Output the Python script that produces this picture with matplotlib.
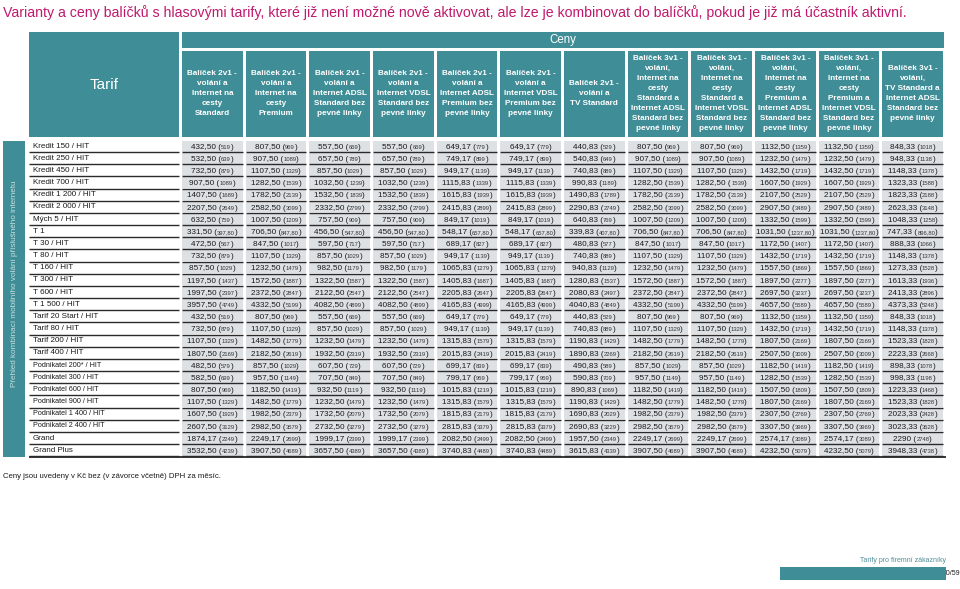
import matplotlib.pyplot as plt
from matplotlib.patches import Rectangle
from matplotlib.font_manager import FontProperties

plt.rcParams['font.family'] = ['Liberation Sans', 'DejaVu Sans']

# data

nadpis = ("Varianty a ceny balíčků s hlasovými tarify, které již není možné nově aktivovat, "
          "ale lze je kombinovat do balíčků, pokud je již má účastník aktivní.")

sloupce = [
    "Balíček 2v1 -\nvolání a\nInternet na\ncesty\nStandard",
    "Balíček 2v1 -\nvolání a\nInternet na\ncesty\nPremium",
    "Balíček 2v1 -\nvolání a\nInternet ADSL\nStandard bez\npevné linky",
    "Balíček 2v1 -\nvolání a\nInternet VDSL\nStandard bez\npevné linky",
    "Balíček 2v1 -\nvolání a\nInternet ADSL\nPremium bez\npevné linky",
    "Balíček 2v1 -\nvolání a\nInternet VDSL\nPremium bez\npevné linky",
    "Balíček 2v1 -\nvolání a\nTV Standard",
    "Balíček 3v1 -\nvolání,\nInternet na\ncesty\nStandard a\nInternet ADSL\nStandard bez\npevné linky",
    "Balíček 3v1 -\nvolání,\nInternet na\ncesty\nStandard a\nInternet VDSL\nStandard bez\npevné linky",
    "Balíček 3v1 -\nvolání,\nInternet na\ncesty\nPremium a\nInternet ADSL\nStandard bez\npevné linky",
    "Balíček 3v1 -\nvolání,\nInternet na\ncesty\nPremium a\nInternet VDSL\nStandard bez\npevné linky",
    "Balíček 3v1 -\nvolání,\nTV Standard a\nInternet ADSL\nStandard bez\npevné linky",
]

tarify = [
    "Kredit 150 / HIT", "Kredit 250 / HIT", "Kredit 450 / HIT", "Kredit 700 / HIT",
    "Kredit 1 200 / HIT", "Kredit 2 000 / HIT", "Mých 5 / HIT", "T 1",
    "T 30 / HIT", "T 80 / HIT", "T 160 / HIT", "T 300 / HIT", "T 600 / HIT",
    "T 1 500 / HIT", "Tarif 20 Start / HIT", "Tarif 80 / HIT", "Tarif 200 / HIT",
    "Tarif 400 / HIT", "Podnikatel 200* / HIT", "Podnikatel 300 / HIT",
    "Podnikatel 600 / HIT", "Podnikatel 900 / HIT", "Podnikatel 1 400 / HIT",
    "Podnikatel 2 400 / HIT", "Grand", "Grand Plus",
]

# ceny bez DPH
bez_dph = [
    ["432,50", "807,50", "557,50", "557,50", "649,17", "649,17", "440,83", "807,50", "807,50", "1132,50", "1132,50", "848,33"],
    ["532,50", "907,50", "657,50", "657,50", "749,17", "749,17", "540,83", "907,50", "907,50", "1232,50", "1232,50", "948,33"],
    ["732,50", "1107,50", "857,50", "857,50", "949,17", "949,17", "740,83", "1107,50", "1107,50", "1432,50", "1432,50", "1148,33"],
    ["907,50", "1282,50", "1032,50", "1032,50", "1115,83", "1115,83", "990,83", "1282,50", "1282,50", "1607,50", "1607,50", "1323,33"],
    ["1407,50", "1782,50", "1532,50", "1532,50", "1615,83", "1615,83", "1490,83", "1782,50", "1782,50", "2107,50", "2107,50", "1823,33"],
    ["2207,50", "2582,50", "2332,50", "2332,50", "2415,83", "2415,83", "2290,83", "2582,50", "2582,50", "2907,50", "2907,50", "2623,33"],
    ["632,50", "1007,50", "757,50", "757,50", "849,17", "849,17", "640,83", "1007,50", "1007,50", "1332,50", "1332,50", "1048,33"],
    ["331,50", "706,50", "456,50", "456,50", "548,17", "548,17", "339,83", "706,50", "706,50", "1031,50", "1031,50", "747,33"],
    ["472,50", "847,50", "597,50", "597,50", "689,17", "689,17", "480,83", "847,50", "847,50", "1172,50", "1172,50", "888,33"],
    ["732,50", "1107,50", "857,50", "857,50", "949,17", "949,17", "740,83", "1107,50", "1107,50", "1432,50", "1432,50", "1148,33"],
    ["857,50", "1232,50", "982,50", "982,50", "1065,83", "1065,83", "940,83", "1232,50", "1232,50", "1557,50", "1557,50", "1273,33"],
    ["1197,50", "1572,50", "1322,50", "1322,50", "1405,83", "1405,83", "1280,83", "1572,50", "1572,50", "1897,50", "1897,50", "1613,33"],
    ["1997,50", "2372,50", "2122,50", "2122,50", "2205,83", "2205,83", "2080,83", "2372,50", "2372,50", "2697,50", "2697,50", "2413,33"],
    ["3957,50", "4332,50", "4082,50", "4082,50", "4165,83", "4165,83", "4040,83", "4332,50", "4332,50", "4657,50", "4657,50", "4373,33"],
    ["432,50", "807,50", "557,50", "557,50", "649,17", "649,17", "440,83", "807,50", "807,50", "1132,50", "1132,50", "848,33"],
    ["732,50", "1107,50", "857,50", "857,50", "949,17", "949,17", "740,83", "1107,50", "1107,50", "1432,50", "1432,50", "1148,33"],
    ["1107,50", "1482,50", "1232,50", "1232,50", "1315,83", "1315,83", "1190,83", "1482,50", "1482,50", "1807,50", "1807,50", "1523,33"],
    ["1807,50", "2182,50", "1932,50", "1932,50", "2015,83", "2015,83", "1890,83", "2182,50", "2182,50", "2507,50", "2507,50", "2223,33"],
    ["482,50", "857,50", "607,50", "607,50", "699,17", "699,17", "490,83", "857,50", "857,50", "1182,50", "1182,50", "898,33"],
    ["582,50", "957,50", "707,50", "707,50", "799,17", "799,17", "590,83", "957,50", "957,50", "1282,50", "1282,50", "998,33"],
    ["807,50", "1182,50", "932,50", "932,50", "1015,83", "1015,83", "890,83", "1182,50", "1182,50", "1507,50", "1507,50", "1223,33"],
    ["1107,50", "1482,50", "1232,50", "1232,50", "1315,83", "1315,83", "1190,83", "1482,50", "1482,50", "1807,50", "1807,50", "1523,33"],
    ["1607,50", "1982,50", "1732,50", "1732,50", "1815,83", "1815,83", "1690,83", "1982,50", "1982,50", "2307,50", "2307,50", "2023,33"],
    ["2607,50", "2982,50", "2732,50", "2732,50", "2815,83", "2815,83", "2690,83", "2982,50", "2982,50", "3307,50", "3307,50", "3023,33"],
    ["1874,17", "2249,17", "1999,17", "1999,17", "2082,50", "2082,50", "1957,50", "2249,17", "2249,17", "2574,17", "2574,17", "2290"],
    ["3532,50", "3907,50", "3657,50", "3657,50", "3740,83", "3740,83", "3615,83", "3907,50", "3907,50", "4232,50", "4232,50", "3948,33"],
]

# ceny vcetne DPH
s_dph = [
    ["519", "969", "669", "669", "779", "779", "529", "969", "969", "1359", "1359", "1018"],
    ["639", "1089", "789", "789", "899", "899", "649", "1089", "1089", "1479", "1479", "1138"],
    ["879", "1329", "1029", "1029", "1139", "1139", "889", "1329", "1329", "1719", "1719", "1378"],
    ["1089", "1539", "1239", "1239", "1339", "1339", "1189", "1539", "1539", "1929", "1929", "1588"],
    ["1689", "2139", "1839", "1839", "1939", "1939", "1789", "2139", "2139", "2529", "2529", "2188"],
    ["2649", "3099", "2799", "2799", "2899", "2899", "2749", "3099", "3099", "3489", "3489", "3148"],
    ["759", "1209", "909", "909", "1019", "1019", "769", "1209", "1209", "1599", "1599", "1258"],
    ["397,80", "847,80", "547,80", "547,80", "657,80", "657,80", "407,80", "847,80", "847,80", "1237,80", "1237,80", "896,80"],
    ["567", "1017", "717", "717", "827", "827", "577", "1017", "1017", "1407", "1407", "1066"],
    ["879", "1329", "1029", "1029", "1139", "1139", "889", "1329", "1329", "1719", "1719", "1378"],
    ["1029", "1479", "1179", "1179", "1279", "1279", "1129", "1479", "1479", "1869", "1869", "1528"],
    ["1437", "1887", "1587", "1587", "1687", "1687", "1537", "1887", "1887", "2277", "2277", "1936"],
    ["2397", "2847", "2547", "2547", "2647", "2647", "2497", "2847", "2847", "3237", "3237", "2896"],
    ["4749", "5199", "4899", "4899", "4999", "4999", "4849", "5199", "5199", "5589", "5589", "5248"],
    ["519", "969", "669", "669", "779", "779", "529", "969", "969", "1359", "1359", "1018"],
    ["879", "1329", "1029", "1029", "1139", "1139", "889", "1329", "1329", "1719", "1719", "1378"],
    ["1329", "1779", "1479", "1479", "1579", "1579", "1429", "1779", "1779", "2169", "2169", "1828"],
    ["2169", "2619", "2319", "2319", "2419", "2419", "2269", "2619", "2619", "3009", "3009", "2668"],
    ["579", "1029", "729", "729", "839", "839", "589", "1029", "1029", "1419", "1419", "1078"],
    ["699", "1149", "849", "849", "959", "959", "709", "1149", "1149", "1539", "1539", "1198"],
    ["969", "1419", "1119", "1119", "1219", "1219", "1069", "1419", "1419", "1809", "1809", "1468"],
    ["1329", "1779", "1479", "1479", "1579", "1579", "1429", "1779", "1779", "2169", "2169", "1828"],
    ["1929", "2379", "2079", "2079", "2179", "2179", "2029", "2379", "2379", "2769", "2769", "2428"],
    ["3129", "3579", "3279", "3279", "3379", "3379", "3229", "3579", "3579", "3969", "3969", "3628"],
    ["2249", "2699", "2399", "2399", "2499", "2499", "2349", "2699", "2699", "3089", "3089", "2748"],
    ["4239", "4689", "4389", "4389", "4489", "4489", "4339", "4689", "4689", "5079", "5079", "4738"],
]

poznamka = "Ceny jsou uvedeny v Kč bez (v závorce včetně) DPH za měsíc."
bocni_popis = "Přehled kombinací mobilního volání příslušného internetu"

# barvy
teal = '#3F8D96'
seda = '#DDE1E4'
cara = '#2A2A2A'
magenta = '#C0186C'

fig = plt.figure(figsize=(9.6, 5.89), dpi=100)
ax = fig.add_axes([0, 0, 1, 1])
ax.set_xlim(0, 960)
ax.set_ylim(589, 0)
ax.axis('off')

# titulek
ax.text(3, 13, nadpis, fontsize=10.2, color=magenta, ha='left', va='center')

# hlavicka
x0 = 182
krok = 63.67
sirka_sl = 60.7
ax.add_patch(Rectangle((29, 32), 150, 105, color=teal, lw=0))
ax.text(104, 85, "Tarif", color='white', fontsize=11, ha='center', va='center')
ax.add_patch(Rectangle((x0, 32), 762, 15.5, color=teal, lw=0))
ax.text(x0 + 381, 40, "Ceny", color='white', fontsize=8.3, ha='center', va='center')
for i, s in enumerate(sloupce):
    xl = x0 + i * krok
    ax.add_patch(Rectangle((xl, 50.5), sirka_sl, 86.5, color=teal, lw=0))
    ax.text(xl + sirka_sl / 2, 93.5, s, color='white', fontsize=5.9, fontweight='bold',
            ha='center', va='center', multialignment='center', linespacing=1.62)

# radky
y0 = 140.6
vyska = 12.17
ax.add_patch(Rectangle((3, y0), 22, vyska * len(tarify), color=teal, lw=0))
ax.text(14.5, 284, bocni_popis, rotation=90, color='#C6DFE1', fontsize=5.9,
        ha='center', va='center')

r = fig.canvas.get_renderer()
fp_big = FontProperties(family='Liberation Sans', size=5.9)
fp_small = FontProperties(family='Liberation Sans', size=4.2)


def sirka(s, fp):
    w, h, d = r.get_text_width_height_descent(s, fp, ismath=False)
    return w


for j, tarif in enumerate(tarify):
    yt = y0 + j * vyska
    yb = yt + vyska
    cy = yt + vyska / 2 - 0.6
    velikost = 5.2 if tarif.startswith("Podnikatel") else 5.8
    ax.text(33, cy, tarif, fontsize=velikost, color='#1a1a1a', ha='left', va='center')
    ax.plot([29, 179], [yb - 0.7, yb - 0.7], color=cara, lw=1.0, solid_capstyle='butt')
    for i in range(len(sloupce)):
        xl = x0 + i * krok
        ax.add_patch(Rectangle((xl, yt), sirka_sl, vyska - 1.2, color=seda, lw=0))
        ax.plot([xl, xl + sirka_sl], [yb - 0.7, yb - 0.7], color=cara, lw=1.0,
                solid_capstyle='butt')
        a = bez_dph[j][i] + " ("
        b = s_dph[j][i]
        c = ")"
        wa, wb, wc = sirka(a, fp_big), sirka(b, fp_small), sirka(c, fp_big)
        xs = xl + sirka_sl / 2 - (wa + wb + wc) / 2
        yb_txt = cy + 2.6
        ax.text(xs, yb_txt, a, fontproperties=fp_big, color='#1a1a1a', ha='left', va='baseline')
        ax.text(xs + wa, yb_txt, b, fontproperties=fp_small, color='#333333', ha='left', va='baseline')
        ax.text(xs + wa + wb, yb_txt, c, fontproperties=fp_big, color='#1a1a1a', ha='left', va='baseline')

# spodni cara
y_end = y0 + vyska * len(tarify)
ax.plot([29, 946], [y_end, y_end], color=cara, lw=1.3, solid_capstyle='butt')

ax.text(3, 476, poznamka, fontsize=5.6, color='#1a1a1a', ha='left', va='center')

# paticka
ax.text(960, 573.5, "50/59", fontsize=5, color='#222222', ha='right', va='center', zorder=1)
ax.add_patch(Rectangle((780, 567), 166, 13, color=teal, lw=0, zorder=2))
ax.text(946, 560, "Tarify pro firemní zákazníky", fontsize=5, color='#4F8F97',
        ha='right', va='center')

fig.savefig('out.png', dpi=100)
